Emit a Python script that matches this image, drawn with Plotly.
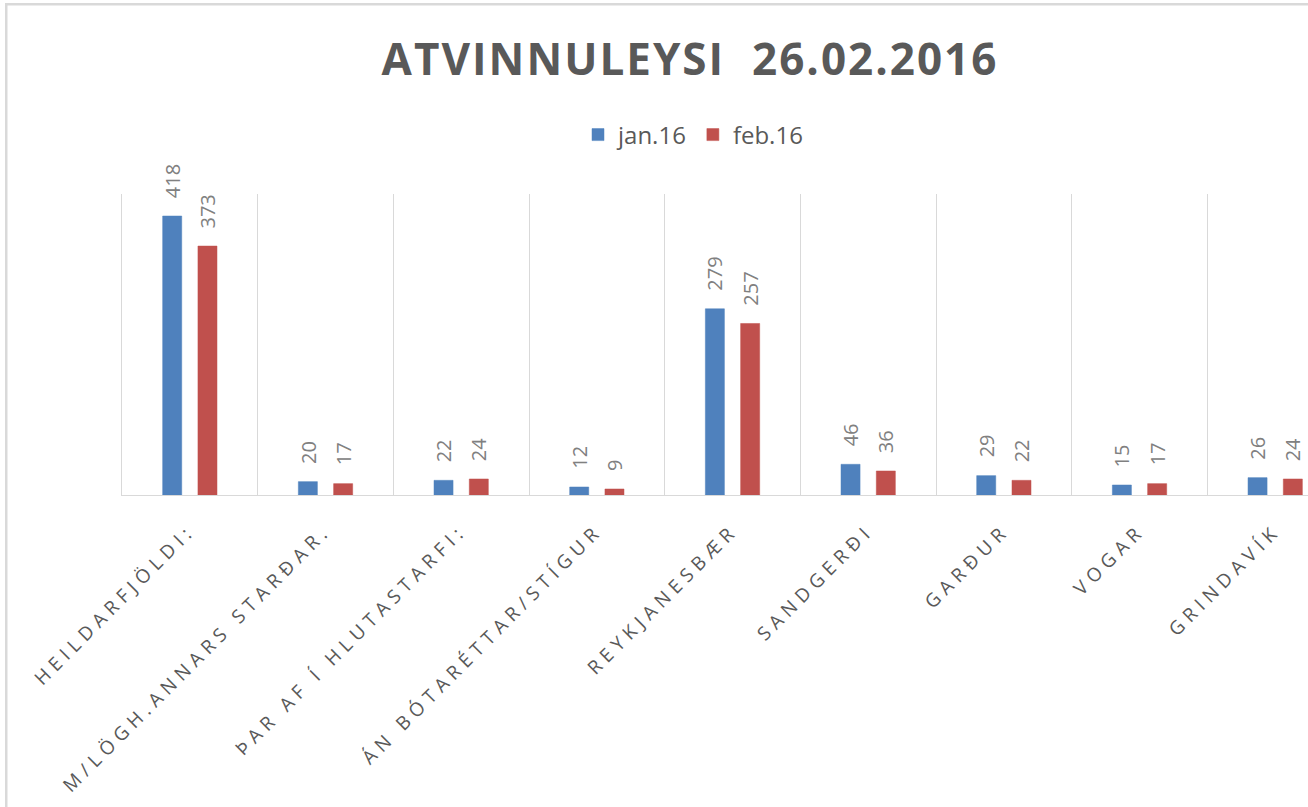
import plotly.graph_objects as go

categories = ["HEILDARFJÖLDI:", "M/LÖGH.ANNARS STARÐAR.", "ÞAR AF Í HLUTASTARFI:",
              "ÁN BÓTARÉTTAR/STÍGUR", "REYKJANESBÆR", "SANDGERÐI", "GARÐUR",
              "VOGAR", "GRINDAVÍK"]
jan16 = [418, 20, 22, 12, 279, 46, 29, 15, 26]
feb16 = [373, 17, 24, 9, 257, 36, 22, 17, 24]
series_names = ["jan.16", "feb.16"]
title_text = "ATVINNULEYSI  26.02.2016"

BLUE = "#4F81BD"
RED = "#C0504D"
GRID = "#d9d9d9"

W, H = 1308, 807
ML, MR, MT, MB = 122, 0, 194, 312
plot_w = W - ML - MR
plot_h = H - MT - MB
cat_px = 135.67
x_end = -0.5 + plot_w / cat_px
bargap, bargroupgap = 0.48, 0.46
slot_px = (1 - bargap) / 2 * cat_px

fig = go.Figure()
for name, vals, col in [(series_names[0], jan16, BLUE), (series_names[1], feb16, RED)]:
    fig.add_trace(go.Bar(
        x=categories, y=vals, name=name,
        marker=dict(color=col, line=dict(color=col, width=0.5)),
        hoverinfo="x+y",
    ))

annotations = []
for vals, sign in [(jan16, -1), (feb16, 1)]:
    for c, v in zip(categories, vals):
        annotations.append(dict(
            x=c, y=v, xref="x", yref="y", text=str(v), showarrow=False,
            textangle=-90, xanchor="center", yanchor="bottom",
            xshift=sign * slot_px / 2, yshift=16,
            font=dict(family="Open Sans", size=20, color="#808080"),
        ))

fig.update_layout(
    width=W, height=H,
    margin=dict(l=ML, r=MR, t=MT, b=MB, pad=0),
    paper_bgcolor="rgba(0,0,0,0)", plot_bgcolor="white",
    barmode="group", bargap=bargap, bargroupgap=bargroupgap,
    title=dict(text=title_text, x=690 / W, xref="container", xanchor="center",
               y=1 - 60 / H, yref="container", yanchor="middle",
               font=dict(family="Open Sans", size=44, color="#595959", weight="bold")),
    legend=dict(orientation="h", x=(693 - ML) / plot_w, xanchor="center",
                y=1 + (MT - 135) / plot_h, yanchor="middle",
                font=dict(family="Open Sans", size=24, color="#595959"),
                bgcolor="rgba(0,0,0,0)"),
    xaxis=dict(type="category", range=[-0.5, x_end], tickson="boundaries",
               showgrid=True, gridcolor=GRID, gridwidth=1,
               showline=True, linecolor=GRID, linewidth=1,
               ticks="", tickangle=-45, ticklabelstandoff=16,
               tickfont=dict(family="Open Sans", size=19, color="#595959")),
    yaxis=dict(range=[0, 451], showgrid=False, zeroline=False, showticklabels=False,
               showline=True, linecolor=GRID, linewidth=1, ticks=""),
    annotations=annotations,
    showlegend=True,
)

# page frame (chart-area border: left and top edges, light grey) drawn as page background
post = """
document.documentElement.style.margin = '0';
document.documentElement.style.overflow = 'hidden';
document.body.style.margin = '0';
document.body.style.overflow = 'hidden';
document.body.style.background = 'linear-gradient(#d9d9d9,#d9d9d9) 5px 3px / 2.5px 100% no-repeat, ' +
    'linear-gradient(#d9d9d9,#d9d9d9) 5px 3px / 100% 2.5px no-repeat, #ffffff';
var gd = document.getElementById('{plot_id}');
gd.querySelectorAll('.xtick text').forEach(function(t){ t.style.letterSpacing = '5.5px'; });
gd.querySelectorAll('.gtitle').forEach(function(t){ t.style.letterSpacing = '2px'; });
"""
fig.write_html("out.html", post_script=post, config={"displayModeBar": False})
